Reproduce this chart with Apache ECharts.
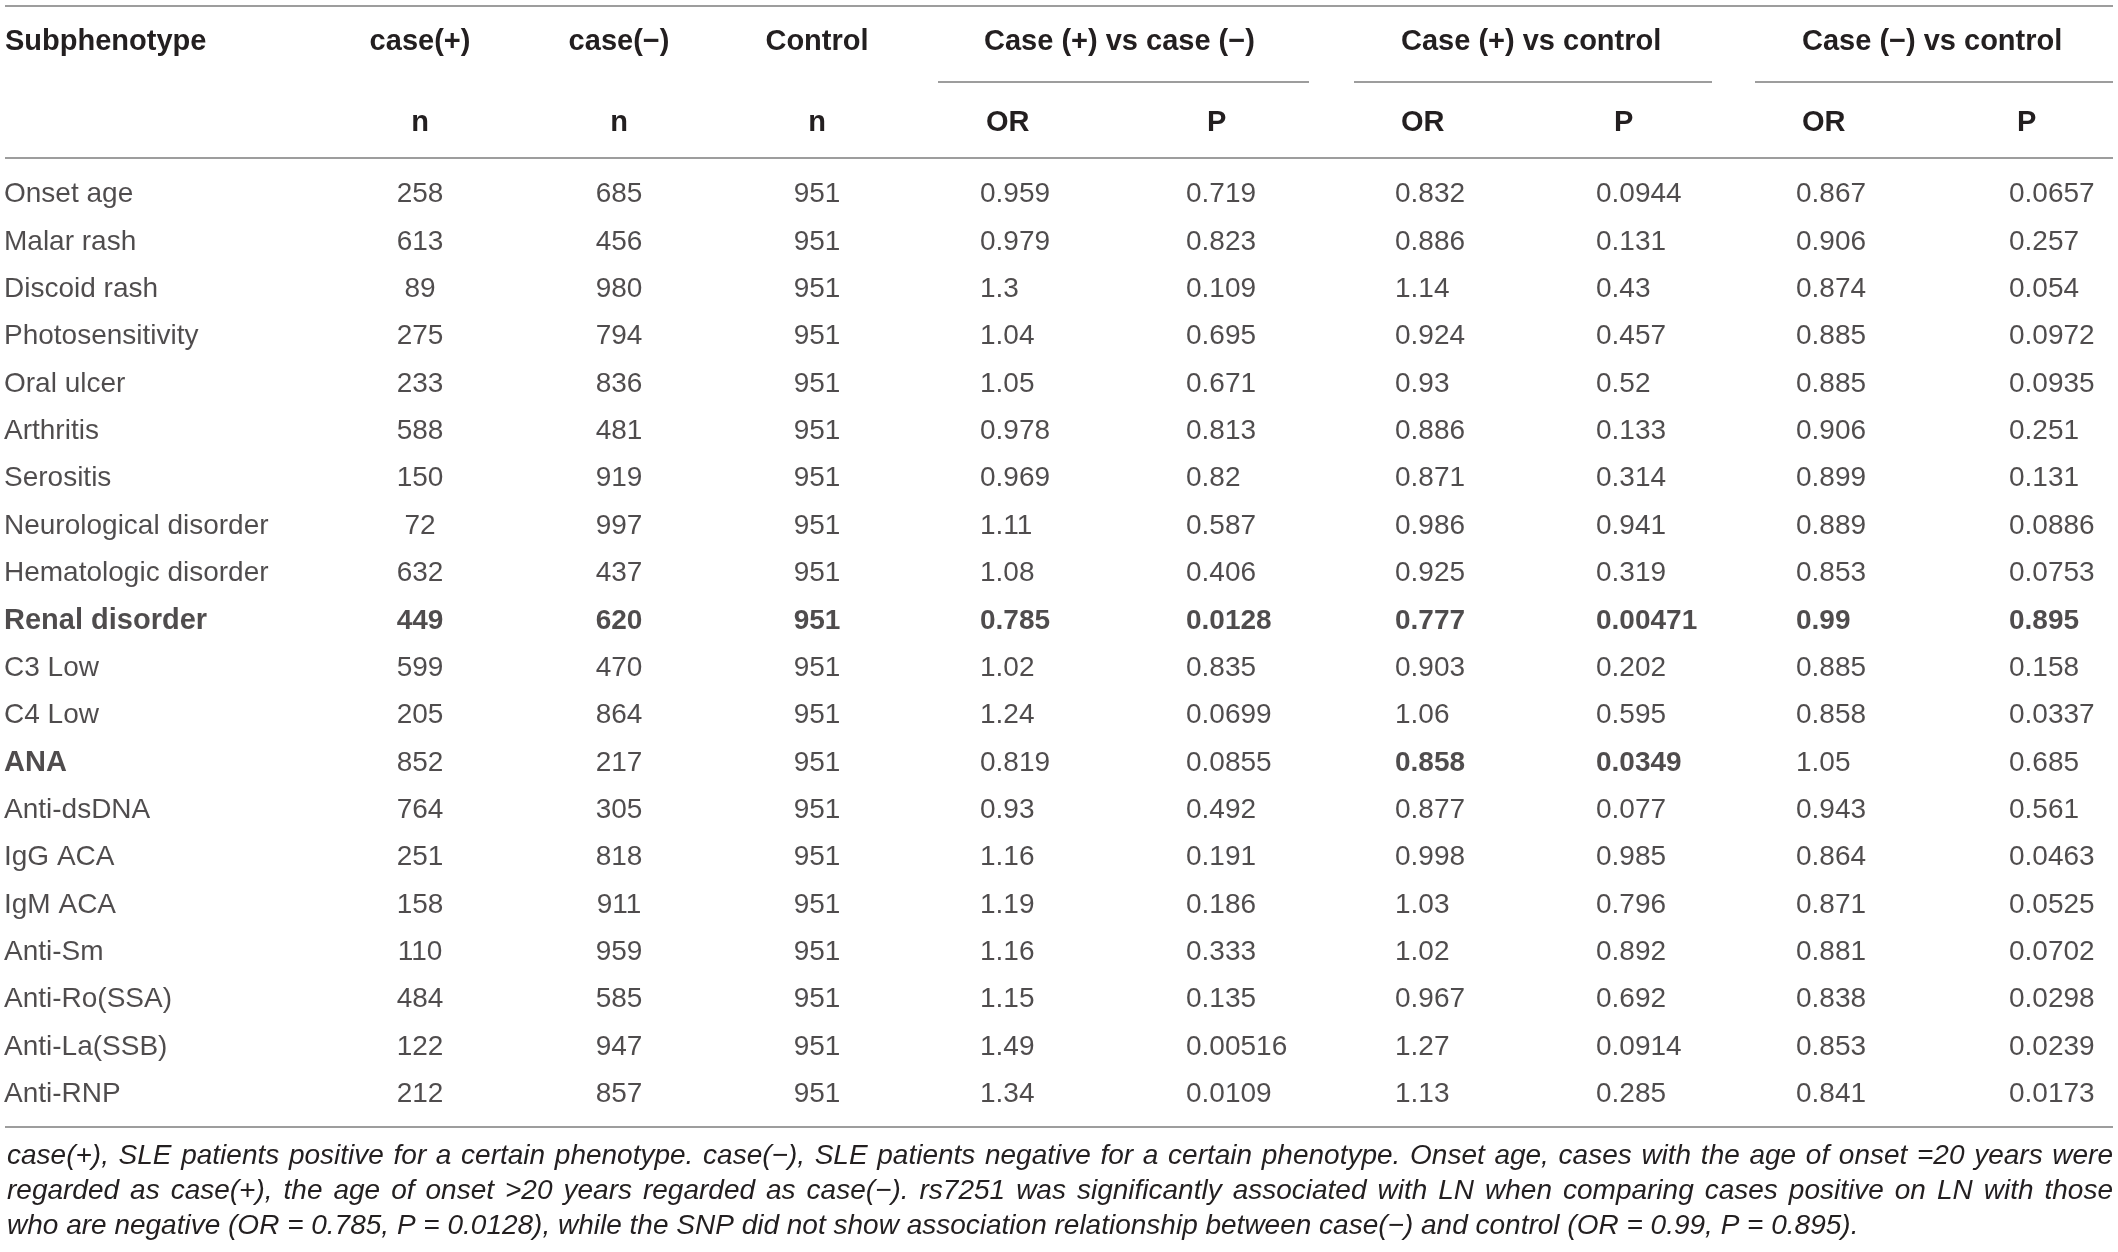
<!DOCTYPE html>
<html lang="en">
<head>
<meta charset="UTF-8">
<title>Subphenotype association table</title>
<script src="https://cdn.jsdelivr.net/npm/echarts@6/dist/echarts.min.js"></script>
<style>html,body{margin:0;padding:0;background:#fff;}</style>
</head>
<body>
<div id="main" style="width:2118px;height:1252px;"></div>
<script type="text/javascript">
// ---- table data ----
var subphenotypes = ['Onset age', 'Malar rash', 'Discoid rash', 'Photosensitivity', 'Oral ulcer', 'Arthritis',
    'Serositis', 'Neurological disorder', 'Hematologic disorder', 'Renal disorder', 'C3 Low', 'C4 Low', 'ANA',
    'Anti-dsDNA', 'IgG ACA', 'IgM ACA', 'Anti-Sm', 'Anti-Ro(SSA)', 'Anti-La(SSB)', 'Anti-RNP'];
var casePosN = [258, 613, 89, 275, 233, 588, 150, 72, 632, 449, 599, 205, 852, 764, 251, 158, 110, 484, 122, 212];
var caseNegN = [685, 456, 980, 794, 836, 481, 919, 997, 437, 620, 470, 864, 217, 305, 818, 911, 959, 585, 947, 857];
var controlN = [951, 951, 951, 951, 951, 951, 951, 951, 951, 951, 951, 951, 951, 951, 951, 951, 951, 951, 951, 951];
var orPosNeg = [0.959, 0.979, 1.3, 1.04, 1.05, 0.978, 0.969, 1.11, 1.08, 0.785, 1.02, 1.24, 0.819, 0.93, 1.16, 1.19, 1.16, 1.15, 1.49, 1.34];
var pPosNeg = [0.719, 0.823, 0.109, 0.695, 0.671, 0.813, 0.82, 0.587, 0.406, 0.0128, 0.835, 0.0699, 0.0855, 0.492, 0.191, 0.186, 0.333, 0.135, 0.00516, 0.0109];
var orPosCtrl = [0.832, 0.886, 1.14, 0.924, 0.93, 0.886, 0.871, 0.986, 0.925, 0.777, 0.903, 1.06, 0.858, 0.877, 0.998, 1.03, 1.02, 0.967, 1.27, 1.13];
var pPosCtrl = [0.0944, 0.131, 0.43, 0.457, 0.52, 0.133, 0.314, 0.941, 0.319, 0.00471, 0.202, 0.595, 0.0349, 0.077, 0.985, 0.796, 0.892, 0.692, 0.0914, 0.285];
var orNegCtrl = [0.867, 0.906, 0.874, 0.885, 0.885, 0.906, 0.899, 0.889, 0.853, 0.99, 0.885, 0.858, 1.05, 0.943, 0.864, 0.871, 0.881, 0.838, 0.853, 0.841];
var pNegCtrl = [0.0657, 0.257, 0.054, 0.0972, 0.0935, 0.251, 0.131, 0.0886, 0.0753, 0.895, 0.158, 0.0337, 0.685, 0.561, 0.0463, 0.0525, 0.0702, 0.0298, 0.0239, 0.0173];

// [row, col]; col -1 = whole row
var boldCells = [[9, -1], [12, 0], [12, 6], [12, 7]];

var colHeaders = ['Subphenotype', 'case(+)', 'case(\u2212)', 'Control'];
var groupHeaders = ['Case (+) vs case (\u2212)', 'Case (+) vs control', 'Case (\u2212) vs control'];
var subHeaders = ['n', 'n', 'n', 'OR', 'P', 'OR', 'P', 'OR', 'P'];
var footnote = [
    'case(+), SLE patients positive for a certain phenotype. case(\u2212), SLE patients negative for a certain phenotype. Onset age, cases with the age of onset =20 years were',
    'regarded as case(+), the age of onset >20 years regarded as case(\u2212). rs7251 was significantly associated with LN when comparing cases positive on LN with those',
    'who are negative (OR = 0.785, P = 0.0128), while the SNP did not show association relationship between case(\u2212) and control (OR = 0.99, P = 0.895).'
];

var columns = [subphenotypes, casePosN, caseNegN, controlN, orPosNeg, pPosNeg, orPosCtrl, pPosCtrl, orNegCtrl, pNegCtrl];

// ---- layout ----
var W = 2118;
var FONT = '"Liberation Sans", Arial, sans-serif';
var TEXT = '#231f20';
var RULE = '#7d7d7d';
var colX = [4, 420, 619, 817, 980, 1186, 1395, 1596, 1796, 2009];
var colAlign = ['left', 'center', 'center', 'center', 'left', 'left', 'left', 'left', 'left', 'left'];
var headX = [5, 420, 619, 817];
var headAlign = ['left', 'center', 'center', 'center'];
var groupX = [984, 1401, 1802];
var groupLine = [[938, 1309], [1354, 1712], [1755, 2113]];
var subX = [420, 619, 817, 986, 1207, 1401, 1614, 1802, 2017];
var subAlign = ['center', 'center', 'center', 'left', 'left', 'left', 'left', 'left', 'left'];

function isBold(r, c) {
    for (var i = 0; i < boldCells.length; i++) {
        if (boldCells[i][0] === r && (boldCells[i][1] === -1 || boldCells[i][1] === c)) return true;
    }
    return false;
}

var series = columns.map(function (col, c) {
    return {
        type: 'scatter',
        symbolSize: 0,
        silent: true,
        data: col.map(function (v, r) {
            var b = isBold(r, c);
            return {
                value: [colX[c], r],
                label: { fontWeight: b ? 'bold' : 'normal', fontSize: (b && c === 0) ? 29 : 28 }
            };
        }),
        label: {
            show: true,
            position: 'inside',
            align: colAlign[c],
            verticalAlign: 'middle',
            fontSize: 28,
            fontFamily: FONT,
            color: TEXT,
            formatter: function (p) { return String(col[p.dataIndex]); }
        }
    };
});

var graphic = [];
function hline(x1, x2, y) {
    graphic.push({ type: 'line', shape: { x1: x1, y1: y, x2: x2, y2: y }, style: { stroke: RULE, lineWidth: 1.5 }, silent: true });
}
function text(str, x, y, align, weight, size, italic) {
    graphic.push({
        type: 'text', x: x, y: y, silent: true,
        style: {
            text: str, fill: TEXT, fontSize: size, fontFamily: FONT, fontWeight: weight,
            fontStyle: italic ? 'italic' : 'normal', align: align, verticalAlign: 'middle'
        }
    });
}

hline(5, 2113, 6);
groupLine.forEach(function (g) { hline(g[0], g[1], 82); });
hline(5, 2113, 158);
hline(5, 2113, 1127);

colHeaders.forEach(function (h, i) { text(h, headX[i], 42, headAlign[i], 'bold', 29); });
groupHeaders.forEach(function (h, i) { text(h, groupX[i], 42, 'left', 'bold', 29); });
subHeaders.forEach(function (h, i) { text(h, subX[i], 123, subAlign[i], 'bold', 29); });

// footnote, justified like the printed caption
var noteSize = 28;
var ctx = document.createElement('canvas').getContext('2d');
ctx.font = 'italic ' + noteSize + 'px ' + FONT;
var noteY = [1156, 1191, 1226];
footnote.forEach(function (line, li) {
    var words = line.split(' ');
    var widths = words.map(function (w) { return ctx.measureText(w).width; });
    var total = widths.reduce(function (a, b) { return a + b; }, 0);
    var space = ctx.measureText(' ').width;
    var gap = li < footnote.length - 1 ? Math.max(2, (2106 - total) / (words.length - 1)) : space;
    var x = 7;
    words.forEach(function (w, i) {
        text(w, x, noteY[li], 'left', 'normal', noteSize, true);
        x += widths[i] + gap;
    });
});

var myChart = echarts.init(document.getElementById('main'));
var option = {
    animation: false,
    backgroundColor: '#fff',
    grid: { left: 0, right: 0, top: 171, bottom: 134 },
    xAxis: { type: 'value', min: 0, max: W, show: false },
    yAxis: { type: 'category', inverse: true, data: subphenotypes, show: false },
    series: series,
    graphic: graphic
};
myChart.setOption(option);
</script>
</body>
</html>
